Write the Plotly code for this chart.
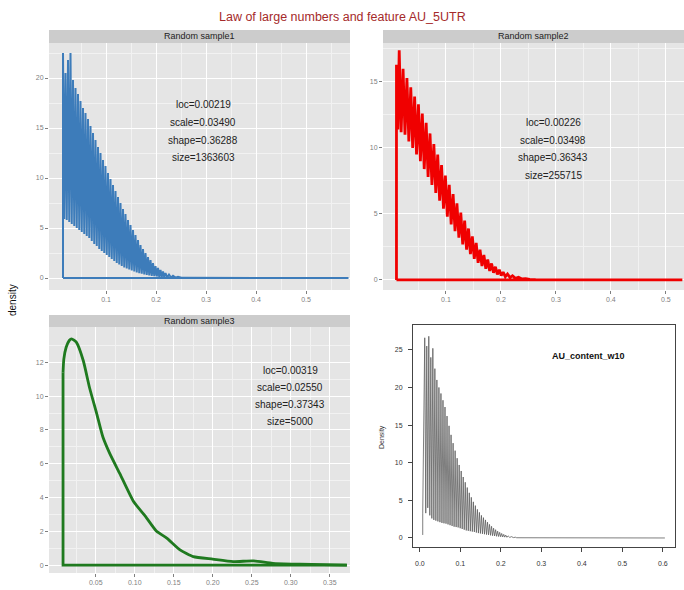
import plotly.graph_objects as go

W, H = 684, 590

# ---------------- data ----------------
# Random sample1: oscillating density, peak x / peak height / trough height
s1_peak_x = [0.014, 0.019, 0.024, 0.029, 0.034, 0.039, 0.044, 0.049, 0.054, 0.059,
             0.064, 0.069, 0.074, 0.079, 0.084, 0.089, 0.094, 0.099, 0.104, 0.109,
             0.114, 0.119, 0.124, 0.129, 0.134, 0.139, 0.144, 0.149, 0.154, 0.159,
             0.164, 0.169, 0.174, 0.179, 0.184, 0.189, 0.194, 0.199, 0.204, 0.209,
             0.214, 0.219, 0.226, 0.234, 0.244, 0.258]
s1_peak_y = [22.5, 20.5, 21.8, 22.5, 19.8, 19.0, 18.4, 17.7, 17.0, 16.5,
             15.9, 15.2, 14.5, 13.8, 13.1, 12.5, 11.8, 11.2, 10.5, 9.9,
             9.3, 8.7, 8.1, 7.5, 6.9, 6.4, 5.8, 5.3, 4.8, 4.3,
             3.8, 3.3, 2.9, 2.5, 2.1, 1.8, 1.5, 1.2, 1.0, 0.8,
             0.65, 0.5, 0.35, 0.22, 0.12, 0.05]
s1_trough_y = [5.9, 5.8, 5.6, 5.4, 5.2, 5.0, 4.8, 4.6, 4.4, 4.2,
               4.0, 3.7, 3.4, 3.2, 2.9, 2.7, 2.5, 2.3, 2.1, 1.9,
               1.7, 1.5, 1.35, 1.2, 1.05, 0.95, 0.85, 0.75, 0.65, 0.55,
               0.48, 0.42, 0.36, 0.3, 0.25, 0.21, 0.18, 0.15, 0.12, 0.1,
               0.08, 0.06, 0.05, 0.04, 0.03, 0.02]
s1_end_x = 0.585

# Random sample2
s2_peak_x = [0.010, 0.015, 0.022, 0.029, 0.036, 0.043, 0.050, 0.057, 0.064, 0.071,
             0.078, 0.085, 0.092, 0.099, 0.106, 0.113, 0.120, 0.127, 0.134, 0.141,
             0.148, 0.155, 0.162, 0.169, 0.176, 0.183, 0.190, 0.197, 0.204, 0.212,
             0.221, 0.232, 0.245, 0.260]
s2_peak_y = [16.3, 17.4, 16.0, 15.3, 14.6, 13.9, 13.3, 12.6, 11.9, 11.1,
             10.3, 9.5, 8.7, 7.9, 7.2, 6.5, 5.8, 5.1, 4.5, 3.9,
             3.3, 2.8, 2.3, 1.9, 1.55, 1.25, 1.0, 0.78, 0.6, 0.45,
             0.32, 0.2, 0.1, 0.04]
s2_trough_y = [11.4, 11.2, 11.0, 10.5, 10.0, 9.5, 9.0, 8.4, 7.8, 7.2,
               6.6, 6.0, 5.4, 4.8, 4.2, 3.7, 3.2, 2.7, 2.3, 1.95,
               1.6, 1.3, 1.05, 0.85, 0.68, 0.54, 0.42, 0.33, 0.25, 0.18,
               0.12, 0.08, 0.05, 0.02]
s2_end_x = 0.53

# Random sample3: smooth density
s3_x = [0.008, 0.009, 0.012, 0.016, 0.019, 0.025, 0.034, 0.042, 0.051, 0.059,
        0.068, 0.081, 0.098, 0.115, 0.128, 0.141, 0.158, 0.175, 0.200, 0.226,
        0.252, 0.277, 0.312, 0.372]
s3_y = [11.4, 12.2, 12.9, 13.3, 13.4, 13.2, 12.1, 10.5, 9.0, 7.6,
        6.6, 5.4, 3.8, 2.8, 2.0, 1.6, 0.9, 0.5, 0.35, 0.2,
        0.25, 0.1, 0.05, 0.0]

# AU_content_w10 (base graphics density)
s4_peak_x = [0.012, 0.017, 0.022, 0.027, 0.032, 0.037, 0.042, 0.047, 0.052, 0.057,
             0.062, 0.067, 0.072, 0.077, 0.082, 0.087, 0.092, 0.097, 0.102, 0.107,
             0.112, 0.117, 0.122, 0.127, 0.132, 0.137, 0.142, 0.147, 0.152, 0.157,
             0.162, 0.167, 0.172, 0.177, 0.182, 0.187, 0.192, 0.197, 0.202, 0.207,
             0.212, 0.218, 0.226, 0.236]
s4_peak_y = [26.6, 25.5, 26.8, 24.0, 25.2, 22.5, 21.0, 20.0, 19.2, 18.3,
             17.4, 16.2, 14.9, 13.7, 12.6, 11.6, 10.6, 9.7, 8.9, 8.1,
             7.4, 6.7, 6.0, 5.4, 4.8, 4.3, 3.8, 3.4, 3.0, 2.7,
             2.4, 2.1, 1.8, 1.55, 1.3, 1.1, 0.9, 0.75, 0.6, 0.48,
             0.38, 0.28, 0.18, 0.1]
s4_trough_y = [3.3, 4.0, 3.0, 2.6, 2.4, 2.3, 2.2, 2.1, 2.0, 1.95,
               1.9, 1.8, 1.7, 1.6, 1.5, 1.45, 1.4, 1.3, 1.2, 1.1,
               1.0, 0.95, 0.9, 0.85, 0.8, 0.72, 0.65, 0.6, 0.55, 0.5,
               0.45, 0.4, 0.35, 0.3, 0.26, 0.22, 0.19, 0.16, 0.13, 0.11,
               0.09, 0.07, 0.05, 0.03]
s4_start = (0.007, 0.4, 3.3)
s4_end_x = 0.605

labels = [["loc=0.00219", "scale=0.03490", "shape=0.36288", "size=1363603"],
          ["loc=0.00226", "scale=0.03498", "shape=0.36343", "size=255715"],
          ["loc=0.00319", "scale=0.02550", "shape=0.37343", "size=5000"]]
strip_titles = ["Random sample1", "Random sample2", "Random sample3"]
x_ticks_12 = [0.1, 0.2, 0.3, 0.4, 0.5]
x_ticks_3 = [0.05, 0.10, 0.15, 0.20, 0.25, 0.30, 0.35]
x_ticks_4 = [0.0, 0.1, 0.2, 0.3, 0.4, 0.5, 0.6]
y_ticks_1 = [0, 5, 10, 15, 20]
y_ticks_2 = [0, 5, 10, 15]
y_ticks_3 = [0, 2, 4, 6, 8, 10, 12]
y_ticks_4 = [0, 5, 10, 15, 20, 25]


def osc(px, py, ty, closed, end_x, start=None):
    xs, ys = [], []
    if start is not None:
        xs += [start[0], start[0]]
        ys += [start[1], start[2]]
    elif closed:
        xs.append(px[0]); ys.append(0.0)
    for i in range(len(px)):
        xs.append(px[i]); ys.append(py[i])
        nx = px[i + 1] if i + 1 < len(px) else px[i] + 0.006
        xs.append((px[i] + nx) / 2); ys.append(ty[i])
    xs.append(end_x); ys.append(0.0)
    if closed:
        xs.append(px[0]); ys.append(0.0)
    return xs, ys


def X(px):
    return px / W


def Y(py):
    return 1 - py / H


fig = go.Figure()
x1, y1 = osc(s1_peak_x, s1_peak_y, s1_trough_y, True, s1_end_x)
fig.add_trace(go.Scatter(x=x1, y=y1, mode="lines", xaxis="x", yaxis="y",
                         line=dict(color="#3d7cba", width=2.0)))
x2, y2 = osc(s2_peak_x, s2_peak_y, s2_trough_y, True, s2_end_x)
fig.add_trace(go.Scatter(x=x2, y=y2, mode="lines", xaxis="x2", yaxis="y2",
                         line=dict(color="#f00000", width=2.8)))
# green: baseline + vertical edge, then the smooth curve
fig.add_trace(go.Scatter(x=[s3_x[-1], s3_x[0], s3_x[0]], y=[0.0, 0.0, s3_y[0]],
                         mode="lines", xaxis="x3", yaxis="y3",
                         line=dict(color="#1f7a1f", width=2.8)))
fig.add_trace(go.Scatter(x=s3_x, y=s3_y, mode="lines", xaxis="x3", yaxis="y3",
                         line=dict(color="#1f7a1f", width=2.8, shape="spline", smoothing=0.5)))
x4, y4 = osc(s4_peak_x, s4_peak_y, s4_trough_y, False, s4_end_x, start=s4_start)
fig.add_trace(go.Scatter(x=x4, y=y4, mode="lines", xaxis="x4", yaxis="y4",
                         line=dict(color="#5e5e5e", width=0.8)))

tickfont = dict(family="Liberation Sans, Arial", size=7, color="#7f7f7f")
gg = dict(showgrid=True, gridcolor="#ffffff", gridwidth=1, zeroline=False,
          ticks="outside", ticklen=3, tickcolor="#7f7f7f", tickfont=tickfont,
          showline=False)


def minor_vals(vals, step):
    return [v - step / 2 for v in vals] + [vals[-1] + step / 2]


fig.update_layout(
    width=W, height=H, margin=dict(l=0, r=0, t=0, b=0),
    paper_bgcolor="white", plot_bgcolor="#e5e5e5", showlegend=False,
    xaxis=dict(domain=[X(49), X(350)], range=[-0.014, 0.588], anchor="y",
               tickvals=x_ticks_12, ticktext=[f"{v:.1f}" for v in x_ticks_12],
               minor=dict(tickvals=minor_vals(x_ticks_12, 0.1), showgrid=True,
                          gridcolor="#f2f2f2", ticks=""), **gg),
    yaxis=dict(domain=[Y(290), Y(43)], range=[-1.2, 23.5], anchor="x",
               tickvals=y_ticks_1,
               minor=dict(tickvals=minor_vals(y_ticks_1, 5), showgrid=True,
                          gridcolor="#f2f2f2", ticks=""), **gg),
    xaxis2=dict(domain=[X(383), 1.0], range=[-0.0145, 0.533], anchor="y2",
                tickvals=x_ticks_12, ticktext=[f"{v:.1f}" for v in x_ticks_12],
                minor=dict(tickvals=minor_vals(x_ticks_12, 0.1), showgrid=True,
                           gridcolor="#f2f2f2", ticks=""), **gg),
    yaxis2=dict(domain=[Y(290), Y(43)], range=[-0.76, 17.95], anchor="x2",
                tickvals=y_ticks_2,
                minor=dict(tickvals=minor_vals(y_ticks_2, 5), showgrid=True,
                           gridcolor="#f2f2f2", ticks=""), **gg),
    xaxis3=dict(domain=[X(49), X(350)], range=[-0.010, 0.376], anchor="y3",
                tickvals=x_ticks_3, ticktext=[f"{v:.2f}" for v in x_ticks_3],
                minor=dict(tickvals=minor_vals(x_ticks_3, 0.05), showgrid=True,
                           gridcolor="#f2f2f2", ticks=""), **gg),
    yaxis3=dict(domain=[Y(573), Y(327)], range=[-0.47, 14.1], anchor="x3",
                tickvals=y_ticks_3,
                minor=dict(tickvals=minor_vals(y_ticks_3, 2), showgrid=True,
                           gridcolor="#f2f2f2", ticks=""), **gg),
    xaxis4=dict(domain=[X(413), X(675)], range=[-0.017, 0.63], anchor="y4",
                tickvals=x_ticks_4, ticktext=[f"{v:.1f}" for v in x_ticks_4],
                showgrid=False, zeroline=False, showline=True, mirror=True,
                linecolor="#444", linewidth=1, ticks="outside", ticklen=4,
                tickcolor="#444", ticklabelstandoff=6,
                tickfont=dict(family="Liberation Sans, Arial", size=7, color="#333")),
    yaxis4=dict(domain=[Y(547), Y(325)], range=[-1.2, 28.3], anchor="x4",
                tickvals=y_ticks_4,
                showgrid=False, zeroline=False, showline=True, mirror=True,
                linecolor="#444", linewidth=1, ticks="outside", ticklen=4,
                tickcolor="#444", ticklabelstandoff=4,
                tickfont=dict(family="Liberation Sans, Arial", size=7, color="#333")),
)

shapes = [
    dict(type="rect", xref="paper", yref="paper", x0=X(413), x1=X(675), y0=Y(547), y1=Y(325),
         fillcolor="white", line=dict(width=0), layer="below"),
]
strips = [(49, 350, 30, 43), (383, 684, 30, 43), (49, 350, 315, 327)]
anns = []
for (a, b, c, d), t in zip(strips, strip_titles):
    shapes.append(dict(type="rect", xref="paper", yref="paper", x0=X(a), x1=X(b),
                       y0=Y(d), y1=Y(c), fillcolor="#cccccc", line=dict(width=0)))
    anns.append(dict(x=X((a + b) / 2), y=Y((c + d) / 2), xref="paper", yref="paper",
                     text=t, showarrow=False, xanchor="center", yanchor="middle",
                     font=dict(family="Liberation Sans, Arial", size=9, color="#222")))

text_pos = [(203, [105, 123, 140, 157]), (553, [123, 140, 157, 175]), (290, [370, 387, 404, 421])]
for (cx, ys_), lab in zip(text_pos, labels):
    for yy, t in zip(ys_, lab):
        anns.append(dict(x=X(cx), y=Y(yy), xref="paper", yref="paper", text=t,
                         showarrow=False, xanchor="center", yanchor="middle",
                         font=dict(family="Liberation Sans, Arial", size=10, color="#222")))

anns.append(dict(x=0.5, y=Y(17), xref="paper", yref="paper",
                 text="Law of large numbers and feature AU_5UTR", showarrow=False,
                 xanchor="center", yanchor="middle",
                 font=dict(family="Liberation Sans, Arial", size=12.5, color="#a52a2a")))
anns.append(dict(x=X(12), y=Y(300), xref="paper", yref="paper", text="density",
                 showarrow=False, textangle=-90, xanchor="center", yanchor="middle",
                 font=dict(family="Liberation Sans, Arial", size=10, color="#111")))
anns.append(dict(x=X(588), y=Y(356), xref="paper", yref="paper", text="<b>AU_content_w10</b>",
                 showarrow=False, xanchor="center", yanchor="middle",
                 font=dict(family="Liberation Sans, Arial", size=9, color="#111")))
anns.append(dict(x=X(382), y=Y(437), xref="paper", yref="paper", text="Density",
                 showarrow=False, textangle=-90, xanchor="center", yanchor="middle",
                 font=dict(family="Liberation Sans, Arial", size=7, color="#333")))

fig.update_layout(shapes=shapes, annotations=anns)
fig.write_html("out.html")
